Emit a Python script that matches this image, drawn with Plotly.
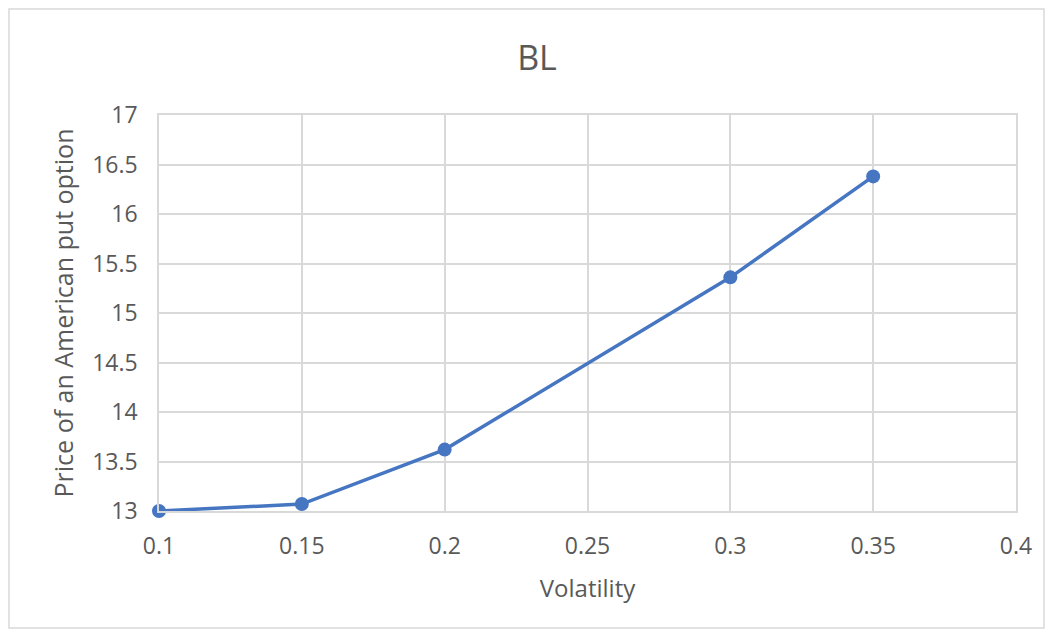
import plotly.graph_objects as go

volatility = [0.1, 0.15, 0.2, 0.3, 0.35]
price = [13.0, 13.07, 13.62, 15.36, 16.38]
x_ticks = [0.1, 0.15, 0.2, 0.25, 0.3, 0.35, 0.4]
x_labels = ["0.1", "0.15", "0.2", "0.25", "0.3", "0.35", "0.4"]
y_ticks = [13, 13.5, 14, 14.5, 15, 15.5, 16, 16.5, 17]
y_labels = ["13", "13.5", "14", "14.5", "15", "15.5", "16", "16.5", "17"]

# page has an 8px body margin; figure spans page 8..1045 x 8..629
W, H = 1037, 621
L, R, T, B = 151, 29, 107, 118
pw, ph = W - L - R, H - T - B

fig = go.Figure()
fig.add_trace(go.Scatter(
    x=volatility, y=price, mode="lines+markers",
    line=dict(color="#4676C2", width=3.5),
    marker=dict(color="#4676C2", size=14),
    cliponaxis=False, showlegend=False,
))

font = "Open Sans, Liberation Sans, sans-serif"
grey = "#595959"
fig.update_layout(
    width=W, height=H,
    margin=dict(l=L, r=R, t=T, b=B),
    paper_bgcolor="white", plot_bgcolor="white",
    title=dict(text="BL", x=529 / W, xanchor="center",
               y=1 - 50 / H, yanchor="middle",
               font=dict(family=font, size=34, color=grey)),
    font=dict(family=font, color=grey),
    xaxis=dict(
        range=[0.1, 0.4], tickvals=x_ticks, ticktext=x_labels,
        showgrid=True, gridcolor="#d9d9d9", gridwidth=1.5,
        zeroline=False, showline=True, linecolor="#d9d9d9", linewidth=1.5,
        mirror=True, ticks="outside", ticklen=14, tickcolor="rgba(0,0,0,0)",
        tickfont=dict(size=23, color=grey),
        title=dict(text="Volatility", font=dict(size=24, color=grey), standoff=20),
    ),
    yaxis=dict(
        range=[13, 17], tickvals=y_ticks, ticktext=y_labels,
        showgrid=True, gridcolor="#d9d9d9", gridwidth=1.5,
        zeroline=False, showline=True, linecolor="#d9d9d9", linewidth=1.5,
        mirror=True, ticks="outside", ticklen=15, tickcolor="rgba(0,0,0,0)",
        tickfont=dict(size=23, color=grey),
        title=dict(text="Price of an American put option", font=dict(size=25, color=grey), standoff=11),
    ),
)

fig.add_shape(
    type="rect", xref="paper", yref="paper",
    x0=(1 - L) / pw, x1=(W - 1 - L) / pw,
    y0=(H - B - (H - 1)) / ph, y1=(H - B - 1) / ph,
    line=dict(color="#d9d9d9", width=1.5), fillcolor="rgba(0,0,0,0)", layer="below",
)

fig.write_html("out.html")
